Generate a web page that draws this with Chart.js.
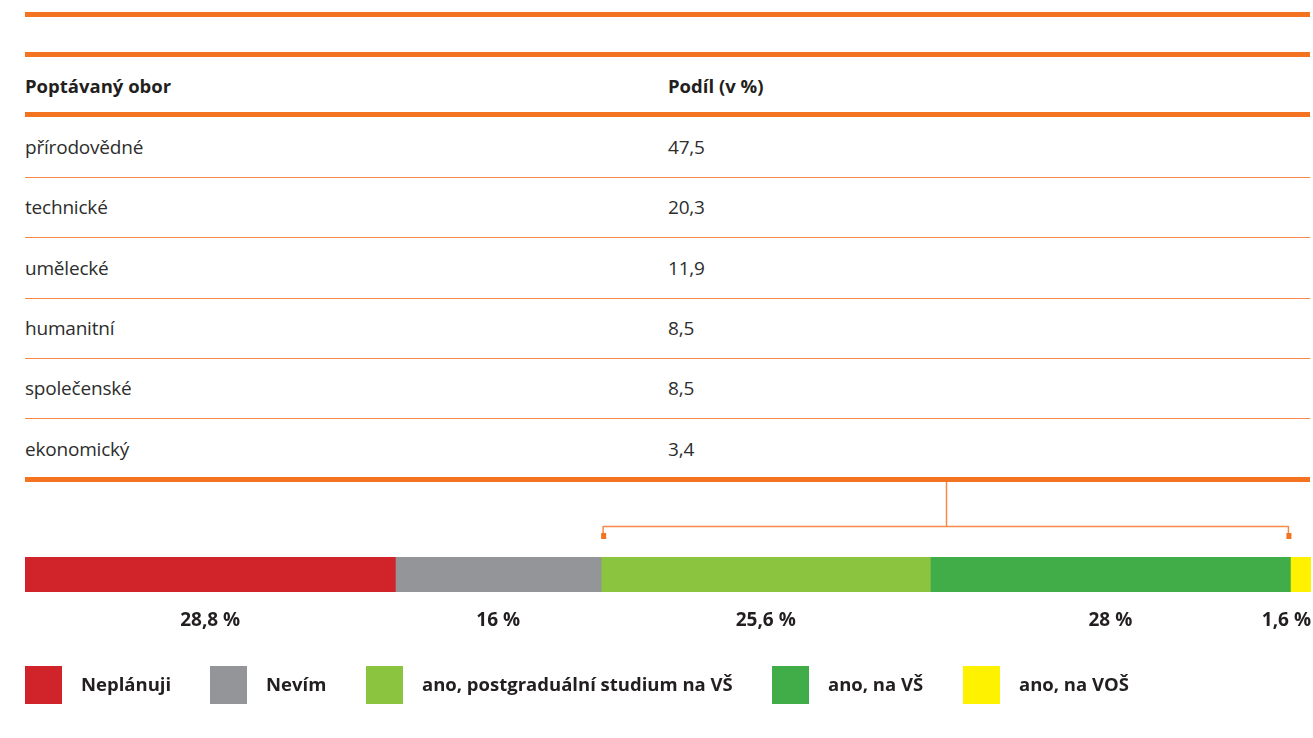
<!DOCTYPE html>
<html><head><meta charset="utf-8">
<script src="https://cdn.jsdelivr.net/npm/chart.js@4/dist/chart.umd.min.js"></script>
<style>
html,body{margin:0;padding:0;background:#fff;width:1313px;height:738px;overflow:hidden;font-family:"Open Sans",sans-serif;color:#333}
.ln{position:absolute;left:25px;width:1285px;background:#f47321}
.thick{height:5px}
.thin{height:1px;background:#f58a4a}
.t{position:absolute;font-size:19px;line-height:22px;color:#2d2d2d;white-space:nowrap;letter-spacing:-0.2px}
.h{font-weight:bold;font-size:18.5px;color:#231f20;letter-spacing:0}
#wrap{position:absolute;left:0;top:0;width:1313px;height:738px}
</style></head><body>
<div id="tbl"></div>
<div id="wrap"><canvas id="c" width="1313" height="738"></canvas></div>
<script>
// table data
const tableHeaders = ["Poptávaný obor", "Podíl (v %)"];
const fields = ["přírodovědné", "technické", "umělecké", "humanitní", "společenské", "ekonomický"];
const shares = ["47,5", "20,3", "11,9", "8,5", "8,5", "3,4"];
// stacked bar data
const seriesNames = ["Neplánuji", "Nevím", "ano, postgraduální studium na VŠ", "ano, na VŠ", "ano, na VOŠ"];
const seriesValues = [28.8, 16, 25.6, 28, 1.6];
const seriesLabels = ["28,8 %", "16 %", "25,6 %", "28 %", "1,6 %"];
const seriesColors = ["#d0232a", "#939598", "#8bc43f", "#40ad48", "#fff200"];
// bracket spans the "ano" answers (indices 2..3)
const bracketFrom = 2, bracketTo = 3;

// build table
const tbl = document.getElementById('tbl');
let html = '';
html += '<div class="ln thick" style="top:12px"></div>';
html += '<div class="ln thick" style="top:52px"></div>';
html += '<div class="t h" style="left:25px;top:75px">'+tableHeaders[0]+'</div>';
html += '<div class="t h" style="left:668px;top:75px">'+tableHeaders[1]+'</div>';
html += '<div class="ln thick" style="top:112px"></div>';
fields.forEach((f,i)=>{
  const top = 117 + i*60.3;
  html += '<div class="t" style="left:25px;top:'+(top+19)+'px">'+f+'</div>';
  html += '<div class="t" style="left:668px;top:'+(top+19)+'px">'+shares[i]+'</div>';
  if(i<fields.length-1) html += '<div class="ln thin" style="top:'+Math.round(top+60)+'px"></div>';
});
html += '<div class="ln thick" style="top:477px"></div>';
tbl.innerHTML = html;

const labelFont = 'bold 19px "Open Sans", sans-serif';
const overlay = {
  id:'overlay',
  afterDatasetsDraw(chart){
    const ctx = chart.ctx, xs = chart.scales.x, area = chart.chartArea;
    ctx.save();
    // value labels
    ctx.font = labelFont; ctx.fillStyle = '#231f20'; ctx.textBaseline='middle';
    let cum = 0;
    const starts = [];
    seriesValues.forEach((v,i)=>{
      starts.push(cum);
      const cx = xs.getPixelForValue(cum + v/2);
      const w = ctx.measureText(seriesLabels[i]).width;
      let x = cx - w/2;
      if (x + w > area.right) x = area.right - w;
      ctx.textAlign='left';
      ctx.fillText(seriesLabels[i], x, area.bottom + 29);
      cum += v;
    });
    // bracket
    const x1 = xs.getPixelForValue(starts[bracketFrom]) + 2;
    const x2 = xs.getPixelForValue(starts[bracketTo] + seriesValues[bracketTo]) - 2;
    const mid = (x1 + x2)/2;
    ctx.strokeStyle = '#f58a4a'; ctx.lineWidth = 1.5;
    ctx.beginPath();
    ctx.moveTo(Math.round(mid)+0.5, 482); ctx.lineTo(Math.round(mid)+0.5, 526.5);
    ctx.moveTo(x1, 526.5); ctx.lineTo(x2, 526.5);
    ctx.moveTo(x1, 526); ctx.lineTo(x1, 534);
    ctx.moveTo(x2, 526); ctx.lineTo(x2, 534);
    ctx.stroke();
    ctx.fillStyle = '#f47321';
    ctx.fillRect(x1-2, 533, 5, 6);
    ctx.fillRect(x2-2, 533, 5, 6);
    // legend
    const legX = [25, 210, 366, 772, 963];
    ctx.font = 'bold 18.5px "Open Sans", sans-serif'; ctx.textAlign='left';
    seriesNames.forEach((n,i)=>{
      ctx.fillStyle = seriesColors[i];
      ctx.fillRect(legX[i], 666, 37, 38);
      ctx.fillStyle = '#231f20';
      ctx.fillText(n, legX[i] + 56, 686);
    });
    ctx.restore();
  }
};

new Chart(document.getElementById('c'), {
  type:'bar',
  data:{
    labels:[''],
    datasets: seriesNames.map((n,i)=>({
      label:n, data:[seriesValues[i]], backgroundColor:seriesColors[i],
      borderWidth:0, barPercentage:1, categoryPercentage:1
    }))
  },
  options:{
    indexAxis:'y', responsive:false, animation:false,
    layout:{padding:{left:25, right:2, top:557, bottom:146}},
    plugins:{legend:{display:false}, tooltip:{enabled:false}},
    scales:{
      x:{stacked:true, min:0, max:100, display:false},
      y:{stacked:true, display:false}
    }
  },
  plugins:[overlay]
});
</script>
</body></html>
